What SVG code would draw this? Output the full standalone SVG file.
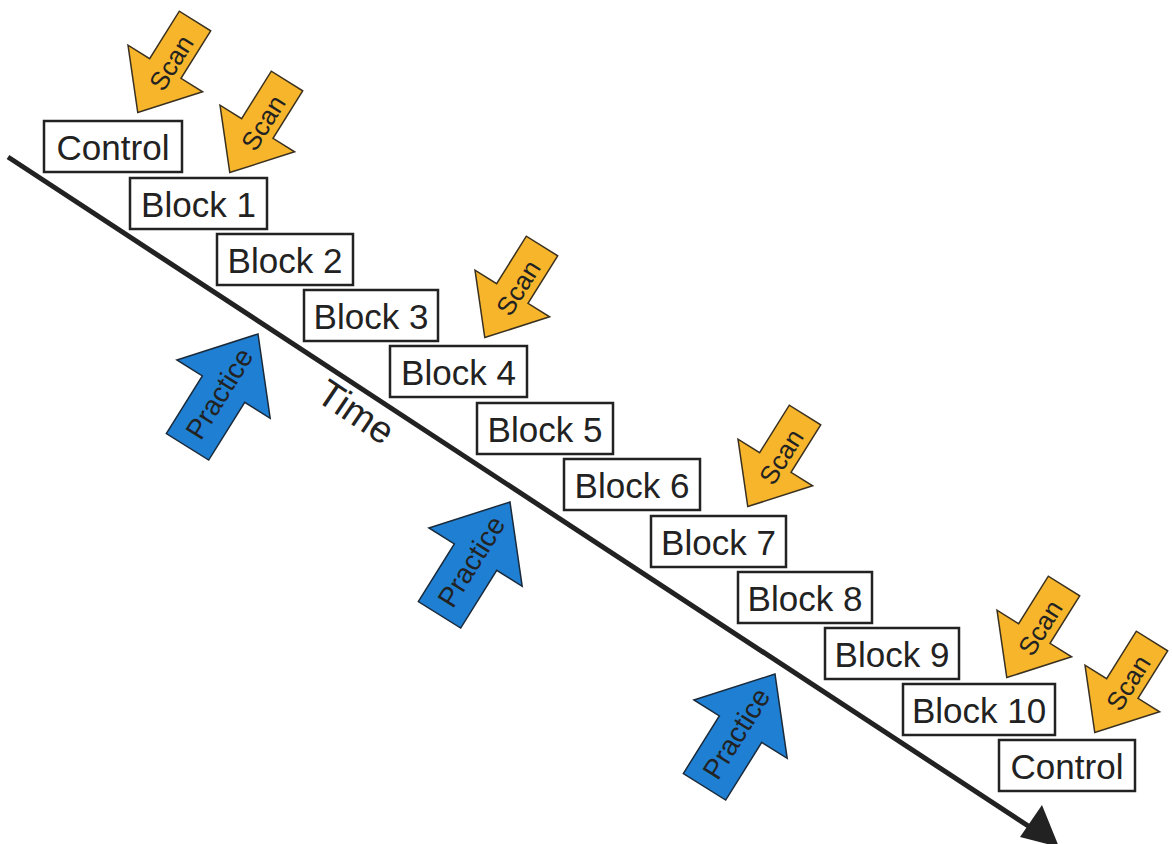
<svg xmlns="http://www.w3.org/2000/svg" width="1172" height="844" viewBox="0 0 1172 844">
<defs>
<style>
.box{fill:#fff;stroke:#222;stroke-width:2.5}
.bt{font-family:"Liberation Sans",Arial,sans-serif;font-size:35px;fill:#222;text-anchor:middle;dominant-baseline:central}
.scan{fill:#F6B52A;stroke:#3a3020;stroke-width:1.5;stroke-linejoin:miter}
.prac{fill:#1F7FD2;stroke:#1a2a3a;stroke-width:1.5;stroke-linejoin:miter}
.at{font-family:"Liberation Sans",Arial,sans-serif;fill:#222;text-anchor:middle;dominant-baseline:central}
</style>
<polygon id="scanShape" class="scan" points="0,-18.5 56,-18.5 56,-44 108,0 56,44 56,18.5 0,18.5"/>
<polygon id="pracShape" class="prac" points="0,-25 68,-25 68,-55 133,0 68,55 68,25 0,25"/>
</defs>
<rect width="1172" height="844" fill="#fff"/>
<g id="connectors">
<line x1="8" y1="157" x2="1036" y2="831" stroke="#222" stroke-width="5"/>
<polygon points="1059,847 1042,805 1020,837" fill="#222"/>
</g>
<g id="time-label"><text class="at" font-size="38" transform="translate(356,412) rotate(34)">Time</text></g>
<g id="control-start"><rect class="box" x="44" y="121" width="138" height="51"/><text class="bt" x="113" y="147">Control</text></g>
<g id="block1"><rect class="box" x="130" y="178" width="137" height="51"/><text class="bt" x="198.5" y="204">Block 1</text></g>
<g id="block2"><rect class="box" x="217" y="234" width="136" height="51"/><text class="bt" x="285" y="260">Block 2</text></g>
<g id="block3"><rect class="box" x="304" y="290" width="134" height="51"/><text class="bt" x="371" y="316">Block 3</text></g>
<g id="block4"><rect class="box" x="390" y="346" width="137" height="51"/><text class="bt" x="458.5" y="372">Block 4</text></g>
<g id="block5"><rect class="box" x="477" y="403" width="136" height="51"/><text class="bt" x="545" y="429">Block 5</text></g>
<g id="block6"><rect class="box" x="564" y="459" width="136" height="51"/><text class="bt" x="632" y="485">Block 6</text></g>
<g id="block7"><rect class="box" x="651" y="516" width="135" height="51"/><text class="bt" x="718.5" y="542">Block 7</text></g>
<g id="block8"><rect class="box" x="738" y="572" width="134" height="51"/><text class="bt" x="805" y="598">Block 8</text></g>
<g id="block9"><rect class="box" x="825" y="628" width="134" height="51"/><text class="bt" x="892" y="654">Block 9</text></g>
<g id="block10"><rect class="box" x="903" y="684" width="152" height="51"/><text class="bt" x="979" y="710">Block 10</text></g>
<g id="control-end"><rect class="box" x="999" y="740" width="136" height="51"/><text class="bt" x="1067" y="766">Control</text></g>
<g id="scan1" transform="translate(195,21) rotate(122)"><use href="#scanShape"/><text class="at" font-size="26" transform="translate(48,-2) rotate(180)">Scan</text></g>
<g id="scan2" transform="translate(287,81) rotate(122)"><use href="#scanShape"/><text class="at" font-size="26" transform="translate(48,-2) rotate(180)">Scan</text></g>
<g id="scan3" transform="translate(542,246) rotate(122)"><use href="#scanShape"/><text class="at" font-size="26" transform="translate(48,-2) rotate(180)">Scan</text></g>
<g id="scan4" transform="translate(805,415) rotate(122)"><use href="#scanShape"/><text class="at" font-size="26" transform="translate(48,-2) rotate(180)">Scan</text></g>
<g id="scan5" transform="translate(1064,586) rotate(122)"><use href="#scanShape"/><text class="at" font-size="26" transform="translate(48,-2) rotate(180)">Scan</text></g>
<g id="scan6" transform="translate(1152,641) rotate(122)"><use href="#scanShape"/><text class="at" font-size="26" transform="translate(48,-2) rotate(180)">Scan</text></g>
<g id="practice1" transform="translate(187.5,446.8) rotate(-58)"><use href="#pracShape"/><text class="at" font-size="28" x="62" y="-1">Practice</text></g>
<g id="practice2" transform="translate(439.5,614.8) rotate(-58)"><use href="#pracShape"/><text class="at" font-size="28" x="62" y="-1">Practice</text></g>
<g id="practice3" transform="translate(704.5,786.8) rotate(-58)"><use href="#pracShape"/><text class="at" font-size="28" x="62" y="-1">Practice</text></g>
</svg>
